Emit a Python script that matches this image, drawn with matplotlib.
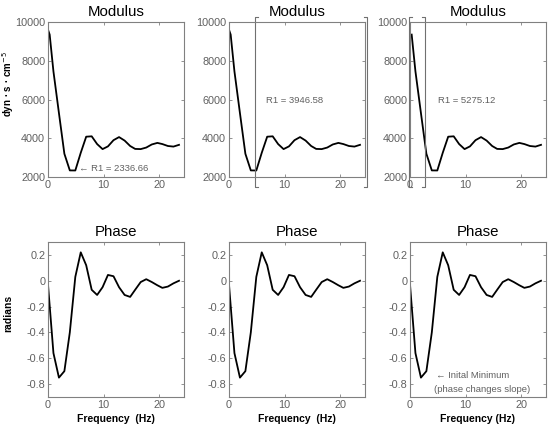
import matplotlib
matplotlib.use('Agg')
import matplotlib.pyplot as plt

plt.rcParams['font.family'] = ['Liberation Sans', 'DejaVu Sans']
plt.rcParams['axes.unicode_minus'] = False

#### data

mod_freq = [0, 0.3, 0.98, 1.97, 2.95, 3.93, 4.92, 5.9, 6.88, 7.87, 8.85, 9.83, 10.8,
            11.8, 12.8, 13.8, 14.8, 15.7, 16.7, 17.7, 18.7, 19.7, 20.6, 21.6, 22.6, 23.6]
modulus = [9600, 9350, 7450, 5300, 3200, 2340, 2337, 3250, 4080, 4100, 3700, 3440, 3580,
           3900, 4060, 3880, 3600, 3450, 3440, 3520, 3680, 3760, 3700, 3600, 3570, 3660]

ph_freq = [0, 0.98, 1.97, 2.95, 3.93, 4.92, 5.9, 6.88, 7.87, 8.85, 9.83, 10.8,
           11.8, 12.8, 13.8, 14.8, 15.7, 16.7, 17.7, 18.7, 19.7, 20.6, 21.6, 22.6, 23.6]
phase = [-0.03, -0.56, -0.75, -0.70, -0.40, 0.03, 0.22, 0.12, -0.07, -0.11, -0.05, 0.045,
         0.035, -0.05, -0.11, -0.125, -0.07, -0.01, 0.012, -0.01, -0.035, -0.055, -0.045, -0.02, 0.0]

mod_start = [0, 0, 1]          # right panel curve starts at the 2nd sample
r1_text = ['\u2190 R1 = 2336.66', 'R1 = 3946.58', 'R1 = 5275.12']
r1_pos = [(5.6, 2420), (6.6, 5950), (5.0, 5950)]
brackets = [None, (4.65, 24.9), (-0.2, 2.65)]
bracket_y = (1480, 10260)

mod_ticks = [2000, 4000, 6000, 8000, 10000]
ph_ticks = [-0.8, -0.6, -0.4, -0.2, 0, 0.2]
ph_ticklabels = ['-0.8', '-0.6', '-0.4', '-0.2', '0', '0.2']
x_ticks = [0, 10, 20]
xlabels = ['Frequency  (Hz)', 'Frequency  (Hz)', 'Frequency (Hz)']

#### plot

W, H = 554, 426
fig = plt.figure(figsize=(W/100, H/100), dpi=100)
lefts = [48, 229, 410]
aw, ah = 136, 155
grey = '#606060'

def style(ax):
    for s in ax.spines.values():
        s.set_color('#808080')
        s.set_linewidth(0.8)
    ax.tick_params(direction='in', length=2, width=0.6, color='#808080',
                   labelsize=7.8, labelcolor=grey, top=True, right=True, pad=2)

for i in range(3):
    # modulus
    ax = fig.add_axes([lefts[i]/W, (H-177)/H, aw/W, ah/H])
    ax.plot(mod_freq[mod_start[i]:], modulus[mod_start[i]:], color='black', lw=1.3)
    ax.set_xlim(0, 24.5)
    ax.set_ylim(2000, 10000)
    ax.set_xticks(x_ticks)
    ax.set_yticks(mod_ticks)
    style(ax)
    ax.set_title('Modulus', fontsize=10.8, pad=4)
    ax.text(r1_pos[i][0], r1_pos[i][1], r1_text[i], fontsize=6.8, color=grey,
            va='center', ha='left')
    if brackets[i] is not None:
        x0, x1 = brackets[i]
        y0, y1 = bracket_y
        ax.plot([x0+0.5, x0, x0, x0+0.5], [y1, y1, y0, y0], color='#707070',
                lw=0.8, clip_on=False)
        ax.plot([x1-0.5, x1, x1, x1-0.5], [y1, y1, y0, y0], color='#707070',
                lw=0.8, clip_on=False)
    if i == 0:
        ax.set_ylabel('dyn \u00b7 s \u00b7 cm$^{-5}$', fontsize=7, fontweight='bold')
        ax.yaxis.set_label_coords(-0.235, 0.6)

    # phase
    ax = fig.add_axes([lefts[i]/W, (H-397)/H, aw/W, ah/H])
    ax.plot(ph_freq, phase, color='black', lw=1.3)
    ax.set_xlim(0, 24.5)
    ax.set_ylim(-0.9, 0.3)
    ax.set_xticks(x_ticks)
    ax.set_yticks(ph_ticks)
    ax.set_yticklabels(ph_ticklabels)
    style(ax)
    ax.set_title('Phase', fontsize=10.8, pad=4)
    ax.set_xlabel(xlabels[i], fontsize=7.5, fontweight='bold', labelpad=3)
    if i == 0:
        ax.set_ylabel('radians', fontsize=7.5, fontweight='bold')
        ax.yaxis.set_label_coords(-0.255, 0.54)
    if i == 2:
        ax.text(4.6, -0.735, '\u2190 Inital Minimum', fontsize=6.8, color=grey, va='center')
        ax.text(4.4, -0.845, '(phase changes slope)', fontsize=6.8, color=grey, va='center')

fig.savefig('out.png', dpi=100)
